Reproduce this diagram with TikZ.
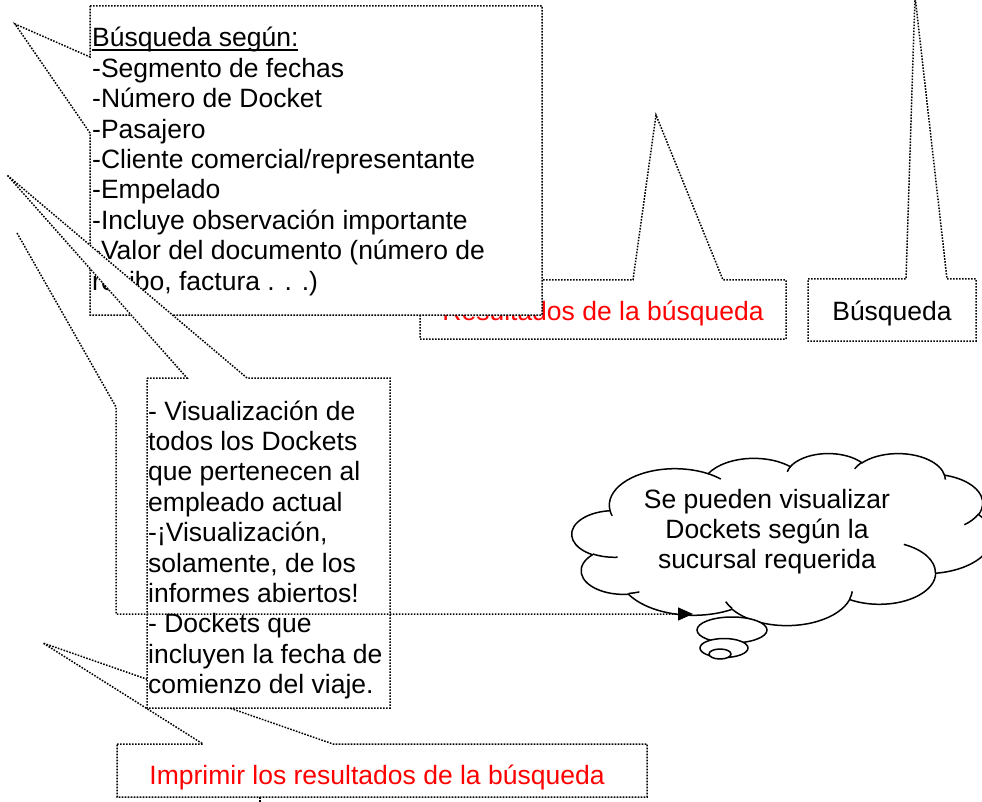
\documentclass[tikz,border=0pt]{standalone}
\usepackage{fontspec}
\setmainfont{Liberation Sans}
\usetikzlibrary{shapes.geometric,arrows.meta}
\newcommand\myul[1]{\setbox0\hbox{#1}\rlap{\rule[-3.8pt]{\wd0}{1.4pt}}\box0}
% arc of the cloud outline: x radius, y radius, start angle, sweep (visual angles, y down)
\newcommand\cloudarc[4]{%
 \pgfextra{%
  \pgfmathparse{atan2(#1*sin(#3),#2*cos(#3))}\xdef\cloudta{\pgfmathresult}%
  \pgfmathparse{atan2(#1*sin(#3+#4),#2*cos(#3+#4))}\xdef\cloudtb{\pgfmathresult}%
  \pgfmathparse{-mod(\cloudtb-(\cloudta)+720,360)}\xdef\cloudtd{\pgfmathresult}%
  \pgfmathparse{-(\cloudta)}\xdef\cloudta{\pgfmathresult}%
  \pgfmathparse{#1*0.9722}\xdef\cloudrx{\pgfmathresult}%
  \pgfmathparse{#2*0.3981}\xdef\cloudry{\pgfmathresult}%
 }
 arc[start angle=\cloudta, delta angle=\cloudtd, x radius=\cloudrx pt, y radius=\cloudry pt]
}
\begin{document}
\begin{tikzpicture}[x=1pt,y=-1pt,
  dotline/.style={line width=1.5pt, dash pattern=on 1.6pt off 1.4pt, draw=black},
  callout/.style={dotline, fill=white},
  txt/.style={anchor=base west, inner sep=0pt, font=\fontsize{26.5}{30.4}\selectfont},
  solidline/.style={draw=black, line width=1.5pt},
  bubble/.style={solidline, fill=white, ellipse, inner sep=0pt}
]
\useasboundingbox (0,0) rectangle (982,802);
\clip (0,0) rectangle (982,802);
% Resultados de la busqueda callout
\draw[callout] (420,280) -- (633,280) -- (656,115) -- (723,280) -- (786,280) -- (786,339) -- (420,339) -- cycle;
\node[txt, anchor=base, text=red] (tres) at (603,320) {Resultados de la búsqueda};
% Busqueda callout
\draw[callout] (808,279) -- (906,279) -- (915,-4) -- (947,279) -- (976,279) -- (976,341) -- (808,341) -- cycle;
\node[txt, anchor=base] (tbus) at (892,320) {Búsqueda};
% Busqueda segun callout
\draw[callout] (90,6) -- (542,6) -- (542,315) -- (90,315) -- (90,133) -- (15,24) -- (90,57) -- cycle;
\node[txt] (tseg) at (92,47) {\begin{tabular}[t]{@{}l@{}}\myul{Búsqueda según:}\\
-Segmento de fechas\\
-Número de Docket\\
-Pasajero\\
-Cliente comercial/representante\\
-Empelado\\
-Incluye observación importante\\
-Valor del documento (número de\\
recibo, factura . . .)\end{tabular}};
% Imprimir callout
\draw[callout] (117,744) -- (203,744) -- (43,643) -- (333,744) -- (647,744) -- (647,797) -- (117,797) -- cycle;
\node[txt, anchor=base, text=red] (timp) at (377,784) {Imprimir los resultados de la búsqueda};
\draw[dotline] (260,797) -- (260,803);
% Visualizacion callout
\draw[callout] (147,378) -- (187,378) -- (7,175) -- (247,378) -- (390,378) -- (390,708) -- (147,708) -- cycle;
\node[txt] (tvis) at (148,420) {\begin{tabular}[t]{@{}l@{}}- Visualización de\\
todos los Dockets\\
que pertenecen al\\
empleado actual\\
-¡Visualización,\\
solamente, de los\\
informes abiertos!\\
- Dockets que\\
incluyen la fecha de\\
comienzo del viaje.\end{tabular}};
% cloud
\begin{scope}[shift={(572,453)}, x=0.9722pt, y=-0.3981pt]
\draw[solidline, fill=white] (39.00,143.70)
  \cloudarc{67.53}{91.90}{-190.48748}{123.78053}
  \cloudarc{53.33}{72.67}{-144.10238}{89.94523}
  \cloudarc{43.65}{59.45}{-145.80792}{99.72302}
  \cloudarc{48.57}{65.95}{-130.98607}{117.24173}
  \cloudarc{53.33}{72.73}{-78.70888}{109.02692}
  \cloudarc{67.75}{92.20}{-46.26725}{130.269}
  \cloudarc{57.85}{78.67}{0.62502}{114.03333}
  \cloudarc{67.52}{92.15}{22.4516}{115.17255}
  \cloudarc{77.20}{105.43}{66.24263}{75.71102}
  \cloudarc{43.60}{59.18}{-274.94208}{146.73557}
  \cloudarc{43.45}{59.45}{-246.8285}{152.51885}
  -- cycle;
\draw[solidline]
  (46.93,261.77) \cloudarc{43.45}{59.45}{86.742}{26.4295}
  (69.28,348.99) \cloudarc{43.60}{59.18}{73.61047}{11.44747}
  (164.78,390.90) \cloudarc{67.52}{92.15}{137.62415}{14.0811}
  (288.27,347.51) \cloudarc{67.52}{92.15}{6.45327}{15.99835}
  (341.29,229.54) \cloudarc{57.85}{78.67}{-70.29235}{70.91737}
  (417.98,153.54) \cloudarc{53.33}{72.73}{30.31803}{27.7515}
  (383.24,54.26) \cloudarc{48.57}{65.95}{-13.74433}{14.8589}
  (290.78,39.52) \cloudarc{48.57}{65.95}{-149.18145}{18.19537}
  (221.41,47.20) \cloudarc{43.65}{59.45}{-163.49427}{17.68635}
  (140.00,51.92) \cloudarc{67.53}{91.90}{-66.70695}{12.31935}
  (41.27,157.89) \cloudarc{67.53}{91.90}{157.65435}{11.85817};
\end{scope}
\node[bubble, minimum width=70pt, minimum height=26pt] (b1) at (732,630) {};
\node[bubble, minimum width=48pt, minimum height=19pt] (b2) at (724,648) {};
\node[bubble, minimum width=22pt, minimum height=10pt] (b3) at (720,654) {};
\node[txt, anchor=base] (tcl) at (767,508) {\begin{tabular}[t]{@{}c@{}}Se pueden visualizar\\
Dockets según la\\
sucursal requerida\end{tabular}};
% connector to the cloud
\coordinate (c0) at (17,233);
\coordinate (c1) at (116,407);
\coordinate (cend) at (693,614);
\draw[dotline, -{Triangle[length=15pt,width=13pt]}] (c0) -- (c1) |- (cend);
\end{tikzpicture}
\end{document}
